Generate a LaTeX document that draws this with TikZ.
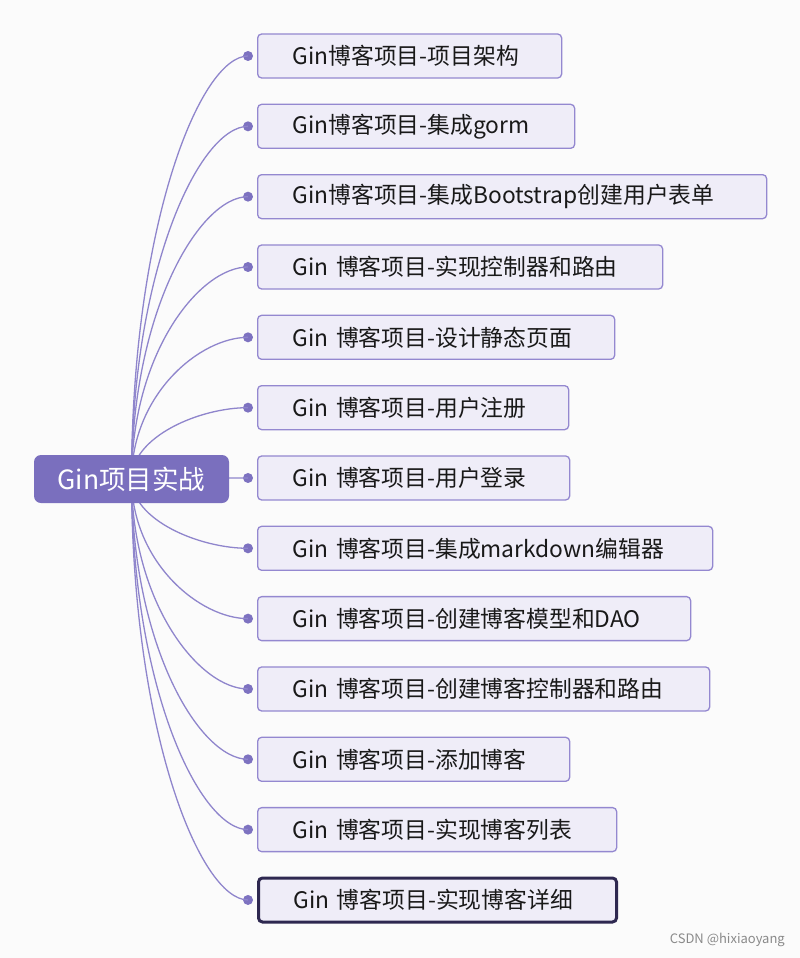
\documentclass[tikz,border=0pt]{standalone}
\usepackage{fontspec}
\setmainfont{Noto Sans CJK SC}
\definecolor{bgc}{HTML}{FBFBFB}
\definecolor{rootfill}{HTML}{7A6FBE}
\definecolor{boxfill}{HTML}{EFEDF8}
\definecolor{boxline}{HTML}{9488D0}
\definecolor{connc}{HTML}{8F85CC}
\definecolor{dotc}{HTML}{7D72C0}
\definecolor{selline}{HTML}{2E2850}
\definecolor{wmark}{HTML}{8A8A8A}
\tikzset{
  rootbox/.style={fill=rootfill, draw=none, rounded corners=7pt, minimum width=195pt, minimum height=48pt, inner sep=0pt, text=white, font=\fontsize{26.5}{30}\selectfont},
  childbox/.style={draw=boxline, fill=boxfill, rounded corners=4pt, line width=1.3pt, minimum height=44pt, anchor=west, inner xsep=35pt, inner ysep=0pt, align=left, text=black!90, font=\fontsize{22.8}{26}\selectfont},
  selbox/.style={draw=selline, line width=3pt},
  conn/.style={draw=connc, line width=1.3pt},
  dotnode/.style={circle, fill=dotc, draw=none, minimum size=10pt, inner sep=0pt},
  wm/.style={text=wmark, font=\fontsize{13}{15}\selectfont, anchor=east, inner sep=0pt}
}
\begin{document}
\begin{tikzpicture}[x=1pt,y=-1pt]
\fill[bgc] (0,0) rectangle (800,958);
\useasboundingbox (0,0) rectangle (800,958);
\coordinate (rc) at (131.5,479);
% dots and connectors
\foreach \i in {1,...,13}{
  \pgfmathsetmacro{\yy}{56+70.33*(\i-1)}
  \pgfmathsetmacro{\ym}{\yy+0.4*(479-\yy)}
  \node[dotnode] (d\i) at (248,\yy) {};
  \draw[conn] (rc) .. controls (132,\ym) and (200,\yy) .. (d\i.center);
}
\node[rootbox] (root) at (131.5,479) {Gin项目实战};
% child boxes
\foreach \i/\w/\t in {
 1/304/{Gin博客项目-项目架构},
 2/317/{Gin博客项目-集成gorm},
 3/509/{Gin博客项目-集成Bootstrap创建用户表单},
 4/405/{Gin 博客项目-实现控制器和路由},
 5/357/{Gin 博客项目-设计静态页面},
 6/311/{Gin 博客项目-用户注册},
 7/312/{Gin 博客项目-用户登录},
 8/455/{Gin 博客项目-集成markdown编辑器},
 9/433/{Gin 博客项目-创建博客模型和DAO},
 10/452/{Gin 博客项目-创建博客控制器和路由},
 11/312/{Gin 博客项目-添加博客},
 12/359/{Gin 博客项目-实现博客列表}}{
  \pgfmathsetmacro{\yy}{56+70.33*(\i-1)}
  \pgfmathsetmacro{\tw}{\w-70}
  \node[childbox, text width=\tw pt] (c\i) at (257,\yy) {\mbox{\t}};
}
\node[childbox, selbox, text width=288pt] (c13) at (257,900) {\mbox{Gin 博客项目-实现博客详细}};
\node[wm] (wmk) at (785,940) {CSDN @hixiaoyang};
\end{tikzpicture}
\end{document}
